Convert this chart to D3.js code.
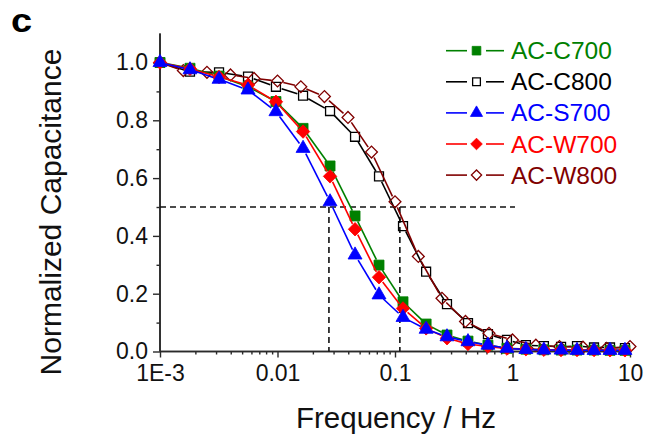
<!DOCTYPE html>
<html>
<head>
<meta charset="utf-8">
<script src="https://cdn.jsdelivr.net/npm/d3@7"></script>
<style>
  body { margin: 0; background: #fff; }
  text { font-family: Arial, "Liberation Sans", sans-serif; }
</style>
</head>
<body>
<svg id="chart"></svg>
<script>
// frequencies (Hz) of the measured points
const freqs = [0.001, 0.0018, 0.00318, 0.00561, 0.0097, 0.0165, 0.028, 0.0457, 0.0731, 0.117, 0.184,
  0.277, 0.418, 0.618, 0.897, 1.30, 1.85, 2.59, 3.54, 4.94, 6.76, 9.06]
const freqsW800 = [0.001, 0.00158, 0.00251, 0.00398, 0.00631, 0.01, 0.0158, 0.0251, 0.0398, 0.0631, 0.1,
  0.158, 0.251, 0.398, 0.631, 1, 1.58, 2.51, 3.98, 6.31, 10]

const c700 = [1.0, 0.98, 0.953, 0.916, 0.865, 0.772, 0.642, 0.469, 0.299, 0.172, 0.095, 0.057, 0.036, 0.022, 0.011, 0.008, 0.006, 0.005, 0.005, 0.005, 0.004, 0.004]
const c800 = [1.0, 0.968, 0.966, 0.951, 0.916, 0.885, 0.832, 0.743, 0.606, 0.434, 0.276, 0.164, 0.098, 0.060, 0.040, 0.022, 0.019, 0.016, 0.019, 0.014, 0.014, 0.012]
const s700 = [1.0, 0.975, 0.942, 0.905, 0.830, 0.703, 0.518, 0.334, 0.196, 0.118, 0.077, 0.051, 0.034, 0.022, 0.011, 0.007, 0.005, 0.005, 0.004, 0.004, 0.004, 0.004]
const w700 = [1.0, 0.978, 0.95, 0.922, 0.864, 0.761, 0.606, 0.423, 0.257, 0.149, 0.080, 0.046, 0.026, 0.017, 0.010, 0.008, 0.006, 0.005, 0.005, 0.005, 0.004, 0.004]
const w800 = [1.0, 0.972, 0.966, 0.957, 0.945, 0.936, 0.916, 0.882, 0.810, 0.690, 0.518, 0.329, 0.184, 0.104, 0.063, 0.040, 0.022, 0.017, 0.015, 0.011, 0.017]

const legendNames = ["AC-C700", "AC-C800", "AC-S700", "AC-W700", "AC-W800"]
const xTicks = [0.001, 0.01, 0.1, 1, 10]
const xTickLabels = ["1E-3", "0.01", "0.1", "1", "10"]
const yTicks = [0, 0.2, 0.4, 0.6, 0.8, 1.0]
const yTickLabels = ["0.0", "0.2", "0.4", "0.6", "0.8", "1.0"]
// half-capacitance guide lines
const halfLevel = 0.5
const halfFreqs = [0.0274, 0.110]
const halfLineEnd = 1.05

const width = 647, height = 435
const svg = d3.select("#chart").attr("width", width).attr("height", height)

const x = d3.scaleLog().domain([0.001, 10]).range([160, 630])
const y = d3.scaleLinear().domain([0, 1.1]).range([351.5, 33.6])

const axisColor = "#2a2a2a"

// minor ticks
const xMinor = []
for (let d = 0.001; d < 10; d *= 10) for (let m = 2; m <= 9; m++) xMinor.push(d * m)
svg.append("g")
  .attr("transform", `translate(0,${y(0)})`)
  .call(d3.axisBottom(x).tickValues(xMinor).tickSize(3).tickFormat(""))
svg.append("g")
  .attr("transform", `translate(${x(0.001)},0)`)
  .call(d3.axisLeft(y).tickValues([0.1, 0.3, 0.5, 0.7, 0.9]).tickSize(3.5).tickFormat(""))

const xAxis = svg.append("g")
  .attr("transform", `translate(0,${y(0)})`)
  .call(d3.axisBottom(x).tickValues(xTicks).tickSize(6).tickPadding(7)
    .tickFormat((d, i) => xTickLabels[i]))
const yAxis = svg.append("g")
  .attr("transform", `translate(${x(0.001)},0)`)
  .call(d3.axisLeft(y).tickValues(yTicks).tickSize(7).tickPadding(5)
    .tickFormat((d, i) => yTickLabels[i]))

svg.selectAll(".domain").attr("stroke", axisColor).attr("stroke-width", 1.6)
svg.selectAll(".tick line").attr("stroke", axisColor).attr("stroke-width", 1.4)
svg.selectAll(".tick text").attr("font-size", 23).attr("fill", "#111")
  .style("font-family", "Arial, 'Liberation Sans', sans-serif")
// remove outer tick stubs
svg.selectAll(".domain").attr("d", function () {
  return d3.select(this.parentNode).attr("transform").includes("translate(0")
    ? `M${x(0.001)},0H${x(10)}` : `M0,${y(0)}V${y(1.1)}`
})

// dashed guides
const guides = svg.append("g").attr("stroke", "#111").attr("stroke-width", 1.6)
  .attr("stroke-dasharray", "6,4").attr("fill", "none")
guides.append("line").attr("x1", x(0.001)).attr("x2", x(halfLineEnd))
  .attr("y1", y(halfLevel)).attr("y2", y(halfLevel))
guides.selectAll("line.v").data(halfFreqs).join("line").attr("class", "v")
  .attr("x1", d => x(d)).attr("x2", d => x(d))
  .attr("y1", y(halfLevel)).attr("y2", y(0))

const series = [
  {name: legendNames[1], f: freqs, v: c800, color: "#000000", sym: "square", fill: false, size: 80},
  {name: legendNames[4], f: freqsW800, v: w800, color: "#800000", sym: "diamond", fill: false, size: 70},
  {name: legendNames[0], f: freqs, v: c700, color: "#008000", sym: "square", fill: true, size: 100},
  {name: legendNames[3], f: freqs, v: w700, color: "#ff0000", sym: "diamond", fill: true, size: 90},
  {name: legendNames[2], f: freqs, v: s700, color: "#0000ff", sym: "triangle", fill: true, size: 85}
]

function symbolPath(s, size) {
  if (s === "triangle") return d3.symbol(d3.symbolTriangle, size)()
  return d3.symbol(d3.symbolSquare, size)()
}
function symbolRotate(s) { return s === "diamond" ? " rotate(45)" : "" }

const gap = 6
series.forEach(s => {
  const pts = s.f.map((f, i) => [x(f), y(s.v[i])])
  const segs = []
  for (let i = 0; i < pts.length - 1; i++) {
    const [x1, y1] = pts[i], [x2, y2] = pts[i + 1]
    const len = Math.hypot(x2 - x1, y2 - y1)
    if (len <= 2 * gap) continue
    const ux = (x2 - x1) / len, uy = (y2 - y1) / len
    segs.push([x1 + ux * gap, y1 + uy * gap, x2 - ux * gap, y2 - uy * gap])
  }
  const g = svg.append("g")
  g.selectAll("line").data(segs).join("line")
    .attr("x1", d => d[0]).attr("y1", d => d[1]).attr("x2", d => d[2]).attr("y2", d => d[3])
    .attr("stroke", s.color).attr("stroke-width", 1.6)
  g.selectAll("path").data(pts).join("path")
    .attr("d", symbolPath(s.sym, s.size))
    .attr("transform", d => `translate(${d[0]},${d[1]})` + symbolRotate(s.sym))
    .attr("fill", s.fill ? s.color : "none")
    .attr("stroke", s.color).attr("stroke-width", s.fill ? 0.8 : 1.3)
})

// legend
const legendOrder = [2, 0, 4, 3, 1]
const legend = svg.append("g")
legendOrder.forEach((si, r) => {
  const s = series[si]
  const ly = 50.7 + r * 31.1
  const row = legend.append("g").attr("transform", `translate(0,${ly})`)
  row.append("line").attr("x1", 446).attr("x2", 467).attr("stroke", s.color).attr("stroke-width", 1.6)
  row.append("line").attr("x1", 486).attr("x2", 504).attr("stroke", s.color).attr("stroke-width", 1.6)
  row.append("path").attr("d", symbolPath(s.sym, s.size * 0.75))
    .attr("transform", "translate(476.5,0)" + symbolRotate(s.sym))
    .attr("fill", s.fill ? s.color : "#fff").attr("stroke", s.color)
    .attr("stroke-width", s.fill ? 0.8 : 1.3)
  row.append("text").attr("x", 511).attr("y", 8.5).attr("font-size", 24.5)
    .attr("fill", s.color).text(s.name)
})

// axis titles
svg.append("text").attr("x", 396).attr("y", 428).attr("text-anchor", "middle")
  .attr("font-size", 29.5).attr("fill", "#111").text("Frequency / Hz")
svg.append("text").attr("transform", "translate(61,212) rotate(-90)")
  .attr("text-anchor", "middle").attr("font-size", 30).attr("fill", "#111")
  .text("Normalized Capacitance")
svg.append("text").attr("transform", "translate(11,32) scale(1.15,1)")
  .attr("font-size", 33).attr("font-weight", "bold").attr("fill", "#000").text("c")
</script>
</body>
</html>
